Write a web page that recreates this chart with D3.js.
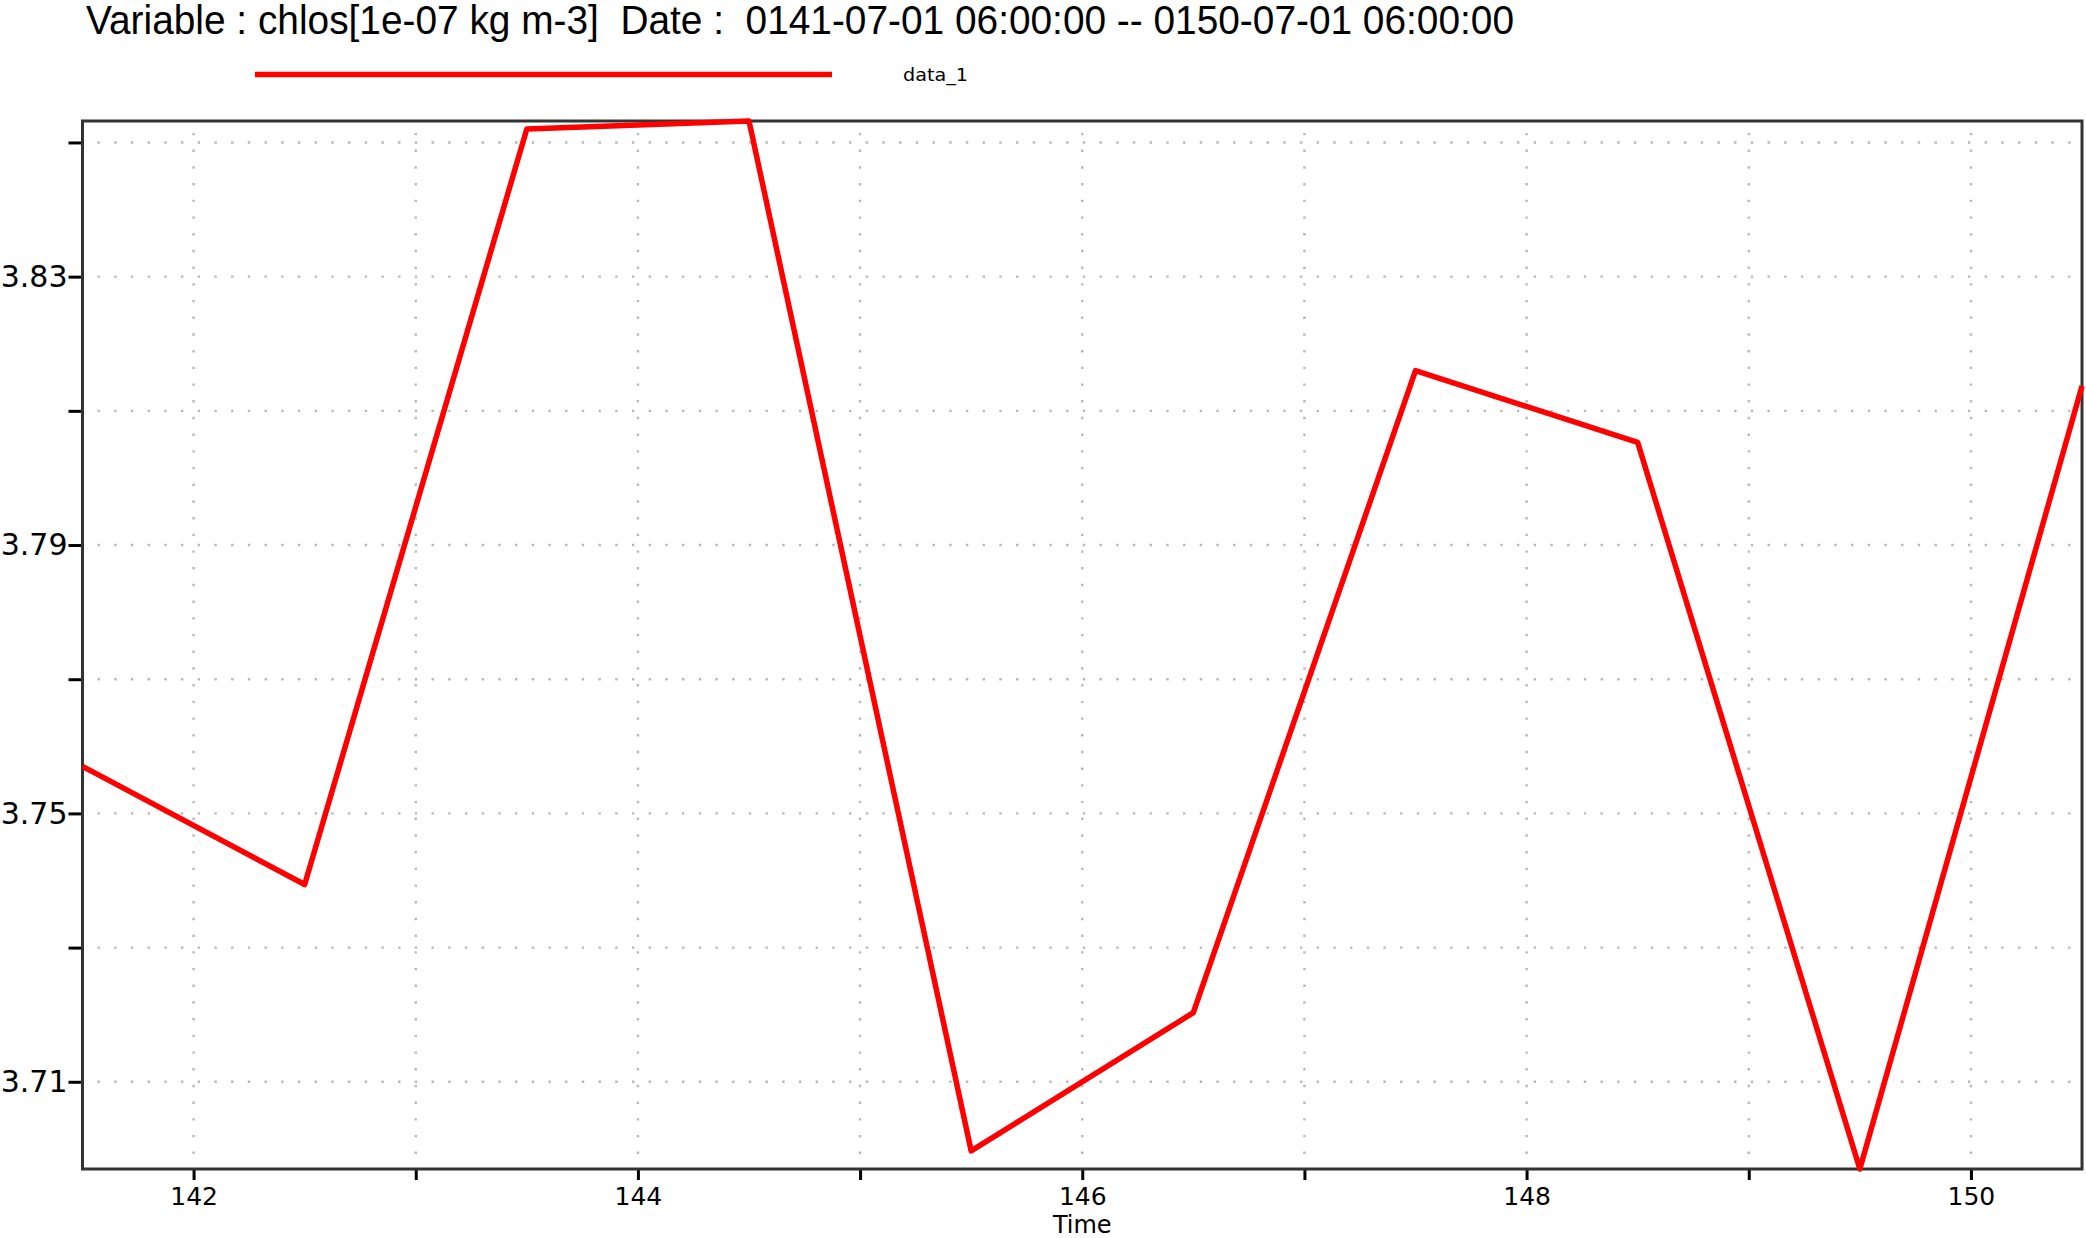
<!DOCTYPE html>
<html>
 <head>
   <meta charset="utf-8" />
   <title>chlos time series</title>
   <script src="https://cdn.jsdelivr.net/npm/d3@7"></script>
   <style>
     body { margin: 0; background: #fff; }
   </style>
 </head>

 <body>
   <script>
     // data
     var years  = [141.5, 142.5, 143.5, 144.5, 145.5, 146.5, 147.5, 148.5, 149.5, 150.5];
     var values = [3.757, 3.7394, 3.852, 3.8532, 3.6997, 3.7203, 3.816, 3.8053, 3.6970, 3.8137];
     var xMajor = [142, 144, 146, 148, 150];
     var xMinor = [143, 145, 147, 149];
     var yMajor = [3.71, 3.75, 3.79, 3.83];
     var yMinor = [3.73, 3.77, 3.81, 3.85];
     var seriesName = "data_1";
     var titleText = "Variable : chlos[1e-07 kg m-3]  Date :  0141-07-01 06:00:00 -- 0150-07-01 06:00:00";

     var width = 2086, height = 1238;
     // plot frame (window.top is reserved, hence the names)
     var pLeft = 82.5, pRight = 2082, pTop = 121, pBottom = 1169;

     var svg = d3.select("body")
                 .append("svg")
                 .attr("width",  width)
                 .attr("height", height);

     var x = d3.scaleLinear()
               .domain(d3.extent(years))
               .range([pLeft, pRight]);

     var y = d3.scaleLinear()
               .domain(d3.extent(values))
               .range([pBottom, pTop]);

     // title
     svg.append("text")
        .attr("x", 86)
        .attr("y", 34)
        .attr("textLength", 1428)
        .attr("lengthAdjust", "spacingAndGlyphs")
        .style("font-family", "'Liberation Sans Narrow', 'Liberation Sans', Arial, sans-serif")
        .style("font-size", "40px")
        .style("white-space", "pre")
        .attr("fill", "#000")
        .text(titleText);

     // legend
     svg.append("line")
        .attr("x1", 255).attr("x2", 832)
        .attr("y1", 74.5).attr("y2", 74.5)
        .attr("stroke", "#ff0000")
        .attr("stroke-width", 5.5);

     svg.append("text")
        .attr("x", 903)
        .attr("y", 80.5)
        .attr("textLength", 65)
        .attr("lengthAdjust", "spacingAndGlyphs")
        .style("font-family", "'DejaVu Sans', sans-serif")
        .style("font-size", "18px")
        .text(seriesName);

     // dotted grid
     var grid = svg.append("g").attr("class", "grid");

     grid.selectAll("line.h")
         .data(yMajor.concat(yMinor))
         .enter().append("line")
         .attr("class", "h")
         .attr("x1", pLeft).attr("x2", pRight)
         .attr("y1", function(d) { return y(d); })
         .attr("y2", function(d) { return y(d); })
         .attr("stroke", "#b8b8b8")
         .attr("stroke-width", 2.4)
         .attr("stroke-dasharray", "2.4 14.3")
         .attr("stroke-dashoffset", -15);

     grid.selectAll("line.v")
         .data(xMajor.concat(xMinor))
         .enter().append("line")
         .attr("class", "v")
         .attr("x1", function(d) { return x(d); })
         .attr("x2", function(d) { return x(d); })
         .attr("y1", pBottom).attr("y2", pTop)
         .attr("stroke", "#b8b8b8")
         .attr("stroke-width", 2.4)
         .attr("stroke-dasharray", "2.4 14.3")
         .attr("stroke-dashoffset", -15);

     // axes
     var yAxis = svg.append("g")
        .attr("transform", "translate(" + pLeft + ",0)")
        .call(d3.axisLeft(y).tickValues(yMajor).tickSize(14).tickPadding(1)
                .tickFormat(d3.format(".2f")));
     svg.append("g")
        .attr("transform", "translate(" + pLeft + ",0)")
        .call(d3.axisLeft(y).tickValues(yMinor).tickSize(14).tickFormat(""));

     var xAxis = svg.append("g")
        .attr("transform", "translate(0," + pBottom + ")")
        .call(d3.axisBottom(x).tickValues(xMajor).tickSize(11).tickPadding(7)
                .tickFormat(d3.format("d")));
     svg.append("g")
        .attr("transform", "translate(0," + pBottom + ")")
        .call(d3.axisBottom(x).tickValues(xMinor).tickSize(11).tickFormat(""));

     svg.selectAll(".domain").remove();
     svg.selectAll(".tick line")
        .attr("stroke", "#000")
        .attr("stroke-width", 3);
     yAxis.selectAll("text")
        .style("font-family", "'DejaVu Sans', sans-serif")
        .style("font-size", "30px")
        .attr("fill", "#000");
     xAxis.selectAll("text")
        .style("font-family", "'DejaVu Sans', sans-serif")
        .style("font-size", "25px")
        .attr("fill", "#000");

     svg.append("text")
        .attr("x", x(146))
        .attr("y", 1233)
        .attr("text-anchor", "middle")
        .style("font-family", "'DejaVu Sans', sans-serif")
        .style("font-size", "24px")
        .text("Time");

     // frame
     svg.append("rect")
        .attr("x", pLeft).attr("y", pTop)
        .attr("width", pRight - pLeft)
        .attr("height", pBottom - pTop)
        .attr("fill", "none")
        .attr("stroke", "#333")
        .attr("stroke-width", 3);

     // series
     var line = d3.line()
                  .x(function(d, i) { return x(years[i]); })
                  .y(function(d) { return y(d); });

     svg.append("path")
        .datum(values)
        .attr("d", line)
        .attr("fill", "none")
        .attr("stroke", "#ff0000")
        .attr("stroke-width", 5.5)
        .attr("stroke-linejoin", "round");
   </script>
 </body>
</html>
